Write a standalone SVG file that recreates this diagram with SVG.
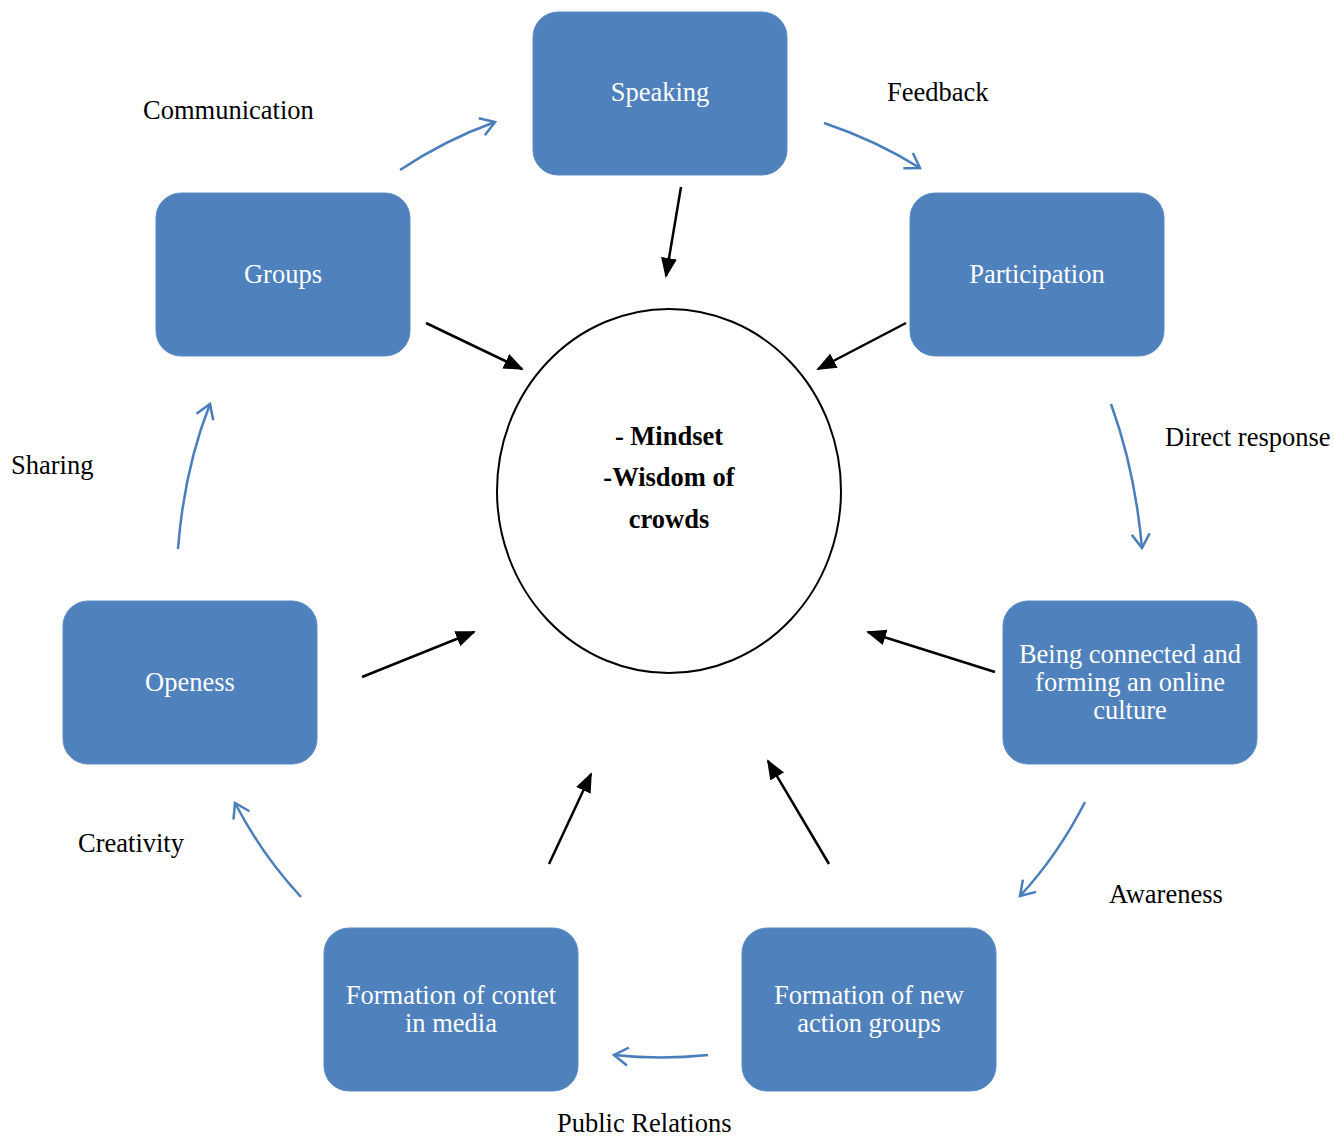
<svg xmlns="http://www.w3.org/2000/svg" width="1334" height="1138" viewBox="0 0 1334 1138">
<style>
.box{fill:#4F81BD;stroke:#5B8BC4;stroke-width:1}
.nt{font-family:"Liberation Serif",serif;font-size:26.5px;fill:#fff;text-anchor:middle}
.lb{font-family:"Liberation Serif",serif;font-size:26.5px;fill:#000}
.ct{font-family:"Liberation Serif",serif;font-size:26.5px;font-weight:bold;fill:#000;text-anchor:middle}
.blk{stroke:#000;stroke-width:2.5;fill:none}
.blu{stroke:#4A7EBB;stroke-width:2.5;fill:none}
</style>
<defs>
<marker id="ah" markerUnits="userSpaceOnUse" markerWidth="20" markerHeight="20" viewBox="0 0 20 20" refX="18" refY="10" orient="auto">
<path d="M0,2 L20,10 L0,18 Z" fill="#000"/>
</marker>
<marker id="oh" markerUnits="userSpaceOnUse" markerWidth="24" markerHeight="24" viewBox="0 0 24 24" refX="20" refY="12" orient="auto">
<path d="M6,3 L20,12 L6,21" fill="none" stroke="#4A7EBB" stroke-width="2.5"/>
</marker>
</defs>
<rect width="1334" height="1138" fill="#fff"/>
<g id="center">
<ellipse cx="669" cy="491" rx="172" ry="182" fill="#fff" stroke="#000" stroke-width="2"/>
<text class="ct" x="669" y="445">- Mindset</text>
<text class="ct" x="669" y="486">-Wisdom of</text>
<text class="ct" x="669" y="528">crowds</text>
</g>
<g id="speaking"><rect class="box" x="533" y="12" width="254" height="163" rx="25"/><text class="nt" x="660" y="101">Speaking</text></g>
<g id="groups"><rect class="box" x="156" y="193" width="254" height="163" rx="25"/><text class="nt" x="283" y="283">Groups</text></g>
<g id="participation"><rect class="box" x="910" y="193" width="254" height="163" rx="25"/><text class="nt" x="1037" y="283">Participation</text></g>
<g id="openess"><rect class="box" x="63" y="601" width="254" height="163" rx="25"/><text class="nt" x="190" y="691">Openess</text></g>
<g id="connected"><rect class="box" x="1003" y="601" width="254" height="163" rx="25"/><text class="nt" x="1130" y="663">Being connected and</text><text class="nt" x="1130" y="691">forming an online</text><text class="nt" x="1130" y="719">culture</text></g>
<g id="contet"><rect class="box" x="324" y="928" width="254" height="163" rx="25"/><text class="nt" x="451" y="1004">Formation of contet</text><text class="nt" x="451" y="1032">in media</text></g>
<g id="newgroups"><rect class="box" x="742" y="928" width="254" height="163" rx="25"/><text class="nt" x="869" y="1004">Formation of new</text><text class="nt" x="869" y="1032">action groups</text></g>
<g id="connectors">
<line class="blk" x1="681" y1="187" x2="666" y2="276" marker-end="url(#ah)"/>
<line class="blk" x1="426" y1="323" x2="522" y2="369" marker-end="url(#ah)"/>
<line class="blk" x1="906" y1="323" x2="818" y2="369" marker-end="url(#ah)"/>
<line class="blk" x1="362" y1="677" x2="474" y2="632" marker-end="url(#ah)"/>
<line class="blk" x1="995" y1="672" x2="868" y2="632" marker-end="url(#ah)"/>
<line class="blk" x1="549" y1="864" x2="591" y2="774" marker-end="url(#ah)"/>
<line class="blk" x1="829" y1="864" x2="768" y2="761" marker-end="url(#ah)"/>
<path class="blu" d="M400,170 Q445,140 495,122" marker-end="url(#oh)"/>
<path class="blu" d="M824,123 Q875,140 920,168" marker-end="url(#oh)"/>
<path class="blu" d="M1111,404 Q1135,470 1142,548" marker-end="url(#oh)"/>
<path class="blu" d="M1085,802 Q1058,855 1020,896" marker-end="url(#oh)"/>
<path class="blu" d="M708,1055 Q660,1060 614,1055" marker-end="url(#oh)"/>
<path class="blu" d="M301,897 Q262,855 235,803" marker-end="url(#oh)"/>
<path class="blu" d="M178,549 Q184,470 210,404" marker-end="url(#oh)"/>
</g>
<g id="labels">
<text class="lb" x="143" y="119">Communication</text>
<text class="lb" x="887" y="101">Feedback</text>
<text class="lb" x="1165" y="446">Direct response</text>
<text class="lb" x="11" y="474">Sharing</text>
<text class="lb" x="78" y="852">Creativity</text>
<text class="lb" x="1109" y="903">Awareness</text>
<text class="lb" x="557" y="1132">Public Relations</text>
</g>
</svg>
